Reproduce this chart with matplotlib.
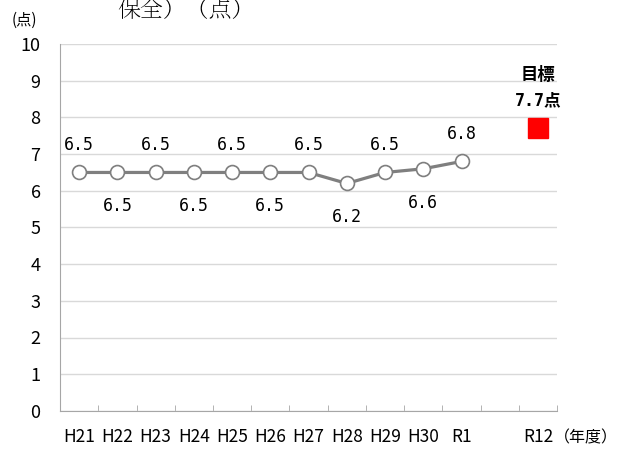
import matplotlib.pyplot as plt
import numpy as np

# %%
years = ["H21", "H22", "H23", "H24", "H25", "H26", "H27", "H28", "H29", "H30", "R1"]
scores = [6.5, 6.5, 6.5, 6.5, 6.5, 6.5, 6.5, 6.2, 6.5, 6.6, 6.8]
target_label = "R12"
target_value = 7.7
tick_labels = years + ["", target_label]

plt.rcParams['font.family'] = ['Liberation Sans Narrow', 'Noto Sans CJK JP', 'DejaVu Sans']

# %%
fig = plt.figure(figsize=(6.19, 4.5), dpi=100)
ax = fig.add_axes([0.097, 0.087, 0.803, 0.815])

x = np.arange(len(scores))
ax.plot(x, scores, '-', color="#7f7f7f", lw=2.3, marker="o", ms=10,
        mfc="white", mec="#7f7f7f", mew=1.2, zorder=3)
xt = len(tick_labels) - 1
ax.plot([xt], [target_value], 's', color="#ff0000", ms=14, zorder=3)

num_font = ['DejaVu Sans Mono', 'Noto Sans CJK JP']
for i, v in enumerate(scores):
    off = 27 if i % 2 == 0 else -34
    ax.annotate(f"{v:.1f}", (i, v), xytext=(0, off), textcoords="offset pixels",
                ha="center", va="center", fontsize=12, family=num_font)

ax.text(xt, 9.15, "目標", ha="center", va="center", fontsize=12.5, fontweight="bold",
        family=['Noto Sans CJK JP'])
ax.text(xt, 8.47, "7.7点", ha="center", va="center", fontsize=12, fontweight="bold",
        family=num_font)

ax.set_xlim(-0.5, len(tick_labels) - 0.5)
ax.set_ylim(0, 10)
ax.set_yticks(range(0, 11))
ax.set_yticklabels([str(t) for t in range(0, 11)], fontsize=13)
ax.set_xticks(x.tolist() + [xt])
ax.set_xticklabels(years + [target_label], fontsize=12.5)
ax.set_xticks(np.arange(-0.5, len(tick_labels)), minor=True)
ax.tick_params(axis="x", which="major", length=0, pad=12)
ax.tick_params(axis="x", which="minor", length=4, direction="in", color="#a6a6a6")
ax.tick_params(axis="y", length=0, pad=14)
ax.grid(axis="y", color="#d9d9d9", lw=1)
for s in ["top", "right"]:
    ax.spines[s].set_visible(False)
ax.spines["left"].set_color("#a6a6a6")
ax.spines["bottom"].set_color("#a6a6a6")

fig.text(0.018, 0.955, "(点)", fontsize=11, family=['Noto Sans CJK JP'], va="center")
fig.text(0.19, 0.975, "保全）（点）", fontsize=16.5, fontweight="light",
         family=['Noto Serif CJK JP', 'Noto Sans CJK JP'], va="center")
fig.text(0.999, 0.027, "（年度）", fontsize=11.5, family=['Noto Sans CJK JP'], va="center", ha="right")

plt.savefig("out.png", dpi=100)
